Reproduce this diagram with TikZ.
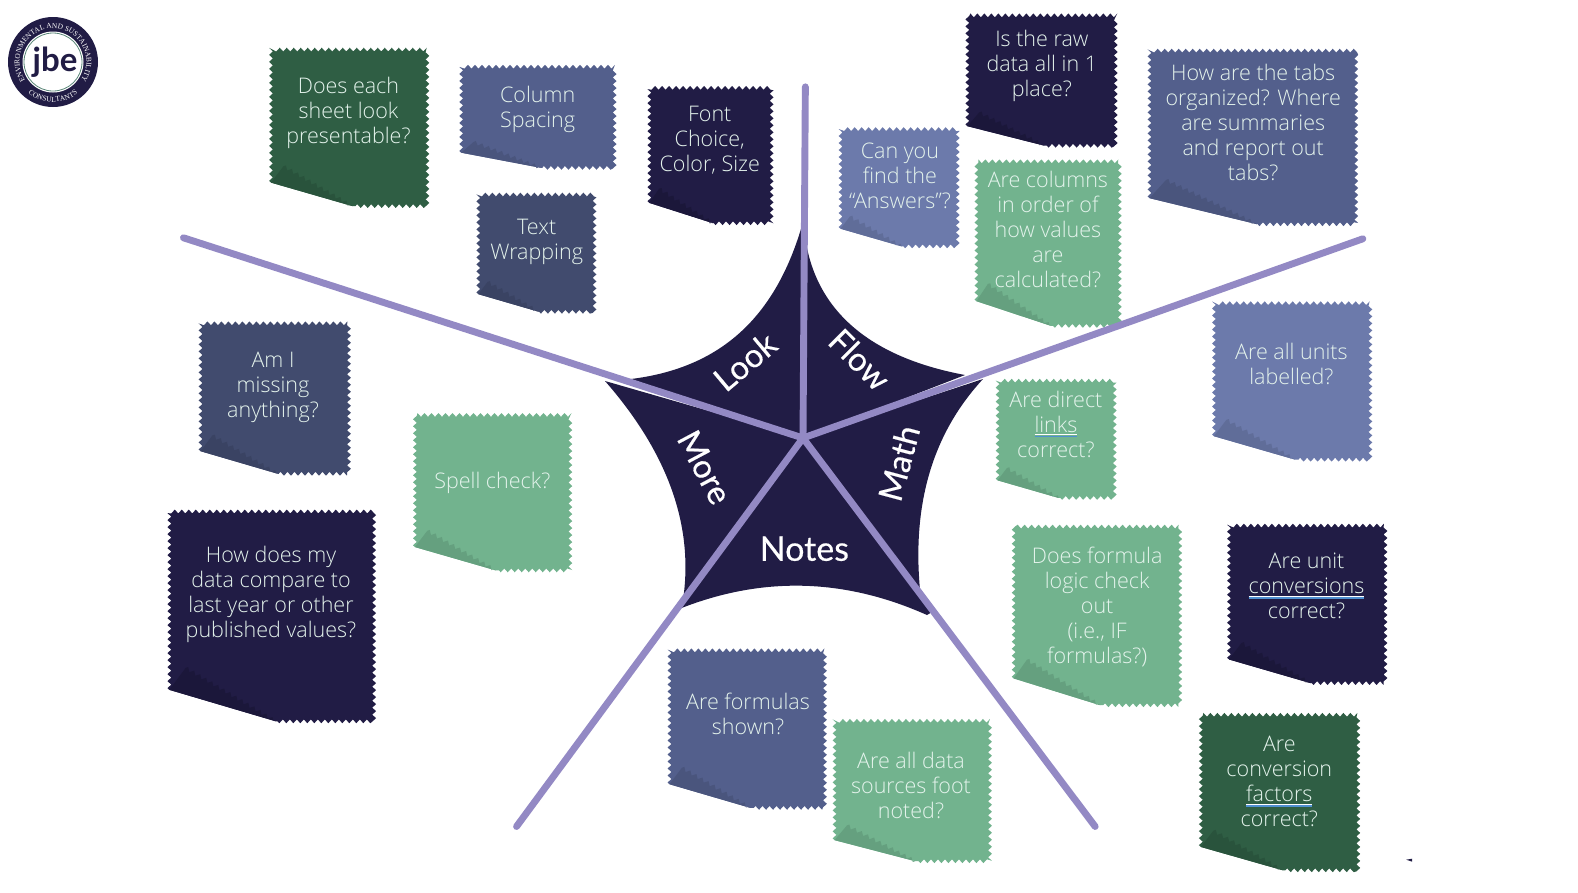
\documentclass[tikz,border=0pt]{standalone}
\usepackage{fontspec}
\usetikzlibrary{decorations.pathmorphing,decorations.text}
\setmainfont{Open Sans Light}
\newfontfamily\starfont[FakeBold=0.4]{Lato}
\newfontfamily\logofont{Liberation Serif}
\newfontfamily\jbefont{Lato}
\definecolor{navy}{HTML}{211C45}
\definecolor{navyf}{HTML}{1B173A}
\definecolor{dgreen}{HTML}{2F5E44}
\definecolor{dgreenf}{HTML}{29533C}
\definecolor{slate}{HTML}{535F8C}
\definecolor{slatef}{HTML}{4A557D}
\definecolor{dslate}{HTML}{414B6E}
\definecolor{dslatef}{HTML}{3A4363}
\definecolor{bluep}{HTML}{6C7AAB}
\definecolor{bluepf}{HTML}{606D99}
\definecolor{greenp}{HTML}{72B38E}
\definecolor{greenpf}{HTML}{65A07F}
\definecolor{spoke}{HTML}{9389C4}
\definecolor{notetxt}{HTML}{E4F3EC}
\definecolor{ulblue}{HTML}{4F8FD0}
\newsavebox\ulbox
\newcommand\blueul[1]{\sbox\ulbox{#1}\rlap{\textcolor{white}{\rule[-3.4pt]{\wd\ulbox}{1pt}}}\rlap{\textcolor{ulblue}{\rule[-5.4pt]{\wd\ulbox}{1.6pt}}}\usebox\ulbox}
\newcommand\notepaper[6]{%
  \pgfmathsetmacro\xr{#3-1.5}\pgfmathsetmacro\yb{#4-1.5}
  \pgfmathsetmacro\nw{\xr-#1}\pgfmathsetmacro\nh{\yb-#2}
  \pgfmathsetmacro\ly{\yb-0.15*\nh}
  \pgfmathsetmacro\px{#1+0.08*\nw}\pgfmathsetmacro\py{\yb-0.255*\nh}
  \pgfmathsetmacro\jx{#1+0.52*\nw}
  \fill[#5] decorate[zz]{(#1,\ly) -- (#1,#2) -- (\xr,#2) -- (\xr,\yb) -- (\jx,\yb)} -- cycle;
  \fill[#6] decorate[zz]{(\px,\py) -- (\jx,\yb)} -- (#1,\ly) -- cycle;
}
\tikzset{
  x=1pt,y=-1pt,
  placed/.style={x=1.0063pt,y=-1.0063pt,shift={(1.3,1.3)}},
  zz/.style={decoration={zigzag,segment length=7pt,amplitude=1.9pt}},
  notetext/.style={align=center,text=notetxt,font=\fontsize{21.5}{25}\selectfont,inner sep=0pt},
  spokeline/.style={draw=spoke,line width=6.9pt,line cap=round},
  wedge/.style={fill=navy},
  starlabel/.style={text=white,font=\starfont\fontsize{#1}{#1}\selectfont,inner sep=0pt},
  starlabel/.default=33,
}
\begin{document}
\begin{tikzpicture}
\useasboundingbox (0,0) rectangle (1578,892);
\begin{scope}[placed]
% notes
\notepaper{268}{48}{425}{205}{dgreen}{dgreenf}
\notepaper{457}{65}{611}{167}{slate}{slatef}
\notepaper{474}{192}{591}{310}{dslate}{dslatef}
\notepaper{644}{86}{767}{222}{navy}{navyf}
\notepaper{960}{14}{1109}{145}{navy}{navyf}
\notepaper{834}{127}{952}{245}{bluep}{bluepf}
\notepaper{1141}{49}{1348}{223}{slate}{slatef}
\notepaper{969}{159}{1113}{324}{greenp}{greenpf}
\notepaper{1205}{300}{1362}{457}{bluep}{bluepf}
\notepaper{990}{377}{1108}{495}{greenp}{greenpf}
\notepaper{1006}{522}{1173}{701}{greenp}{greenpf}
\notepaper{1220}{521}{1377}{679}{navy}{navyf}
\notepaper{1192}{709}{1350}{865}{dgreen}{dgreenf}
\notepaper{828}{715}{984}{856}{greenp}{greenpf}
\notepaper{664}{645}{820}{803}{slate}{slatef}
\notepaper{198}{320}{347}{471}{dslate}{dslatef}
\notepaper{411}{411}{567}{567}{greenp}{greenpf}
\notepaper{167}{507}{372}{717}{navy}{navyf}
\node[notetext] (n1) at (345,110.5) {Does each\\sheet look\\presentable?};
\node[notetext] (n2) at (533,107) {Column\\Spacing};
\node[notetext] (n3) at (532,239) {Text\\Wrapping};
\node[notetext] (n4) at (704,138) {Font\\Choice,\\Color, Size};
\node[notetext] (n5) at (1034,64) {Is the raw\\data all in 1\\place?};
\node[notetext] (n6) at (893,173) {Can you\\find the\\“Answers”?};
\node[notetext] (n7) at (1244,120) {How are the tabs\\organized? Where\\are summaries\\and report out\\tabs?};
\node[notetext] (n8) at (1040,227) {Are columns\\in order of\\how values\\are\\calculated?};
\node[notetext] (n9) at (1282,360) {Are all units\\labelled?};
\node[notetext] (n10) at (1048,420) {Are direct\\\blueul{links}\\correct?};
\node[notetext] (n11) at (1089,602) {Does formula\\logic check\\out\\(i.e., IF\\formulas?)};
\node[notetext] (n12) at (1297,581) {Are unit\\\blueul{conversions}\\correct?};
\node[notetext] (n13) at (1270,775) {Are\\conversion\\\blueul{factors}\\correct?};
\node[notetext] (n14) at (904,779) {Are all data\\sources foot\\noted?};
\node[notetext] (n15) at (742,708) {Are formulas\\shown?};
\node[notetext] (n16) at (270,384) {Am I\\missing\\anything?};
\node[notetext] (n17) at (488,479) {Spell check?};
\node[notetext] (n18) at (268,589) {How does my\\data compare to\\last year or other\\published values?};
\coordinate (s1) at (799,85);
\coordinate (s2) at (1353,236);
\coordinate (s3) at (1087,820);
\coordinate (s4) at (512,820);
\coordinate (s5) at (181,235);
\end{scope}
% star
\coordinate (c) at (803,438);
\fill[wedge] (803,222) .. controls (776,318) and (720,368) .. (631,379) -- (c) -- cycle;
\fill[wedge] (807,248) .. controls (821,315) and (874,358) .. (965,375) -- (c) -- cycle;
\fill[wedge] (983,379) .. controls (933,433) and (912,503) .. (920,590) -- (c) -- cycle;
\fill[wedge] (927,615) .. controls (844,578) and (762,576) .. (679,609) -- (c) -- (932,612) -- cycle;
\fill[wedge] (683,600) .. controls (694,526) and (668,453) .. (605,381) -- (c) -- cycle;
% spokes
\foreach \e in {s1,s2,s3,s4,s5} \draw[spokeline] (c) -- (\e);
\begin{scope}[placed]
\node[starlabel,rotate=40] (look) at (739,358) {Look};
\node[starlabel,rotate=-45] (flow) at (853,356) {Flow};
\node[starlabel,rotate=75] (math) at (892,459) {Math};
\node[starlabel,rotate=-62] (more) at (699,463) {More};
\node[starlabel=34] (notes) at (798,544) {Notes};
\fill[navy] (1396,853) -- (1402,852) -- (1402,855) -- cycle;
\end{scope}
% logo
\fill[navy] (53,62) circle (45);
\fill[white] (53,62) circle (30.5);
\draw[greenp!70!navy,line width=0.8pt] (53,62) circle (29);
\node[text=navy,font=\jbefont\bfseries\fontsize{33}{33}\selectfont,inner sep=0pt] (jbe) at (55,62) {jbe};
\begin{scope}[shift={(53,62)},x=1pt,y=1pt]
\path[postaction={decorate},decoration={text along path,text align=center,
   text={|\logofont\fontsize{7.4}{8}\selectfont\color{white}|ENVIRONMENTAL AND SUSTAINABILITY}}]
   (215:33.5) arc[start angle=215,end angle=-35,radius=33.5];
\path[postaction={decorate},decoration={text along path,text align=center,
   text={|\logofont\fontsize{7.4}{8}\selectfont\color{white}|CONSULTANTS}}]
   (225:40) arc[start angle=225,end angle=315,radius=40];
\end{scope}
\end{tikzpicture}
\end{document}
